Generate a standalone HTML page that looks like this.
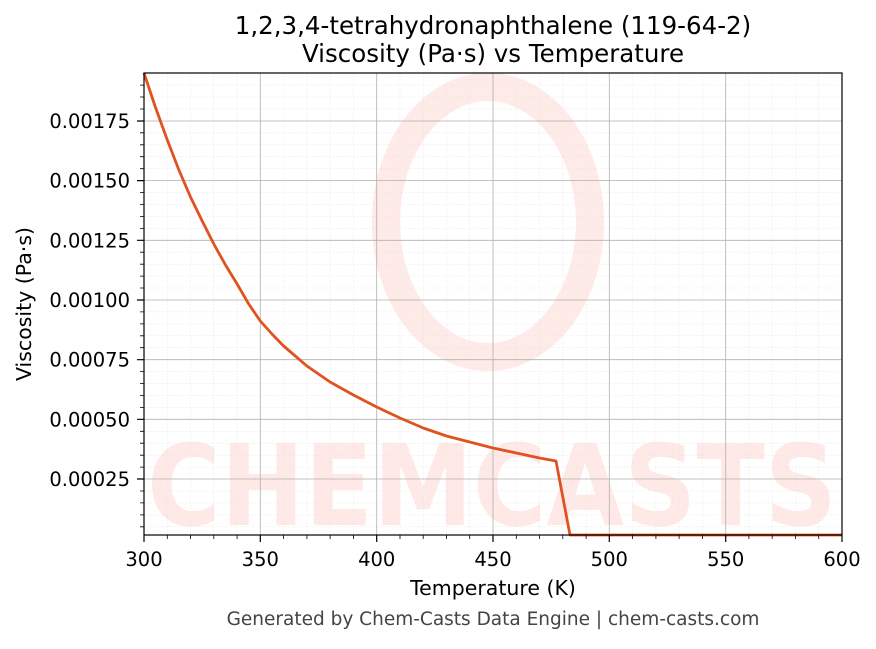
<!DOCTYPE html>
<html><head><meta charset="utf-8"><style>
body{margin:0;background:#fff;}
svg text{font-family:"DejaVu Sans","Liberation Sans",sans-serif;}
</style></head><body>
<svg width="876" height="644" viewBox="0 0 876 644" xmlns="http://www.w3.org/2000/svg">
<rect width="876" height="644" fill="#fff"/>
<!-- watermark -->
<g opacity="0.45">
<ellipse cx="488" cy="222" rx="102" ry="135" fill="none" stroke="#fdd0c8" stroke-width="28"/>
<text x="492" y="525" font-size="112" font-weight="bold" fill="#fdd0c8" text-anchor="middle" textLength="690" lengthAdjust="spacingAndGlyphs">CHEMCASTS</text>
</g>
<!-- minor grid -->
<g stroke="#e4e4e4" stroke-width="0.5" stroke-dasharray="1.5,1.5">
<path d="M167.3 73V535M190.5 73V535M213.8 73V535M237.1 73V535M283.6 73V535M306.9 73V535M330.1 73V535M353.4 73V535M400 73V535M423.2 73V535M446.5 73V535M469.7 73V535M516.3 73V535M539.5 73V535M562.8 73V535M586.1 73V535M632.6 73V535M655.9 73V535M679.1 73V535M702.4 73V535M748.9 73V535M772.2 73V535M795.5 73V535M818.7 73V535"/>
<path d="M144 526.8H842M144 514.9H842M144 502.9H842M144 491H842M144 467.1H842M144 455.2H842M144 443.2H842M144 431.3H842M144 407.4H842M144 395.5H842M144 383.6H842M144 371.6H842M144 347.7H842M144 335.8H842M144 323.9H842M144 311.9H842M144 288H842M144 276.1H842M144 264.2H842M144 252.2H842M144 228.4H842M144 216.4H842M144 204.5H842M144 192.5H842M144 168.7H842M144 156.7H842M144 144.8H842M144 132.8H842M144 109H842M144 97H842M144 85.1H842"/>
</g>
<!-- major grid -->
<g stroke="#b0b0b0" stroke-width="0.8">
<path d="M260.3 73V535M376.7 73V535M493 73V535M609.3 73V535M725.7 73V535"/>
<path d="M144 479H842M144 419.3H842M144 359.7H842M144 300H842M144 240.3H842M144 180.6H842M144 121H842"/>
</g>
<!-- curve -->
<polyline fill="none" stroke="#e0521f" stroke-width="2.8" stroke-linejoin="round" points="144,73 155,106 167.3,140 178.9,170 190.5,197 202.2,221 213.8,244 225.5,265 237.1,284 248.7,304 260.3,321 272,334 283.6,346 295.3,356 306.9,366 318.5,374 330.1,382 353.4,395 376.7,407 400,418 423.2,428 446.5,436 469.7,442 493,448 516.3,453 539.5,458 556,461 570,535 842,535"/>
<!-- axes frame -->
<rect x="144" y="73" width="698" height="462" fill="none" stroke="#000" stroke-width="1.2"/>
<!-- ticks -->
<g stroke="#000" stroke-width="1.2">
<path d="M144 535v7M260.3 535v7M376.7 535v7M493 535v7M609.3 535v7M725.7 535v7M842 535v7"/>
<path d="M144 479h-7M144 419.3h-7M144 359.7h-7M144 300h-7M144 240.3h-7M144 180.6h-7M144 121h-7"/>
</g>
<g stroke="#000" stroke-width="0.8">
<path d="M167.3 535v4M190.5 535v4M213.8 535v4M237.1 535v4M283.6 535v4M306.9 535v4M330.1 535v4M353.4 535v4M400 535v4M423.2 535v4M446.5 535v4M469.7 535v4M516.3 535v4M539.5 535v4M562.8 535v4M586.1 535v4M632.6 535v4M655.9 535v4M679.1 535v4M702.4 535v4M748.9 535v4M772.2 535v4M795.5 535v4M818.7 535v4"/>
<path d="M144 526.8h-4M144 514.9h-4M144 502.9h-4M144 491h-4M144 467.1h-4M144 455.2h-4M144 443.2h-4M144 431.3h-4M144 407.4h-4M144 395.5h-4M144 383.6h-4M144 371.6h-4M144 347.7h-4M144 335.8h-4M144 323.9h-4M144 311.9h-4M144 288h-4M144 276.1h-4M144 264.2h-4M144 252.2h-4M144 228.4h-4M144 216.4h-4M144 204.5h-4M144 192.5h-4M144 168.7h-4M144 156.7h-4M144 144.8h-4M144 132.8h-4M144 109h-4M144 97h-4M144 85.1h-4"/>
</g>
<g font-size="19.5" fill="#000" text-anchor="middle">
<text x="144" y="566">300</text><text x="260.3" y="566">350</text><text x="376.7" y="566">400</text><text x="493" y="566">450</text><text x="609.3" y="566">500</text><text x="725.7" y="566">550</text><text x="842" y="566">600</text>
</g>
<g font-size="19.5" fill="#000" text-anchor="end">
<text x="130" y="486">0.00025</text><text x="130" y="426.3">0.00050</text><text x="130" y="366.7">0.00075</text><text x="130" y="307">0.00100</text><text x="130" y="247.3">0.00125</text><text x="130" y="187.6">0.00150</text><text x="130" y="128">0.00175</text>
</g>
<text x="493" y="595" font-size="20.5" text-anchor="middle">Temperature (K)</text>
<text transform="translate(31,304) rotate(-90)" font-size="20.5" text-anchor="middle">Viscosity (Pa·s)</text>
<text x="493" y="34" font-size="24.5" text-anchor="middle">1,2,3,4-tetrahydronaphthalene (119-64-2)</text>
<text x="493" y="62" font-size="24.5" text-anchor="middle">Viscosity (Pa·s) vs Temperature</text>
<text x="493" y="625" font-size="18.5" fill="#444" text-anchor="middle">Generated by Chem-Casts Data Engine | chem-casts.com</text>
</svg>
</body></html>
